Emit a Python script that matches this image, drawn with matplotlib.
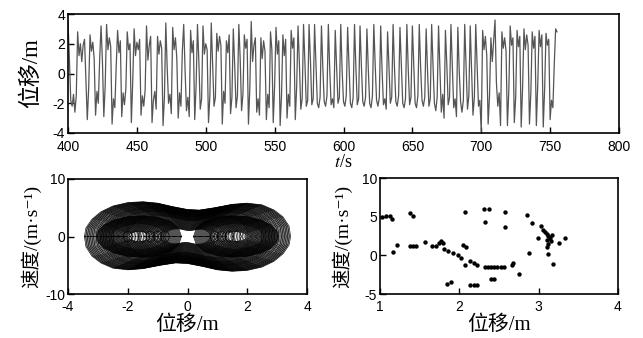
import numpy as np
import matplotlib
matplotlib.use("Agg")
from matplotlib import pyplot as plt

plt.rcParams['font.family'] = ['Liberation Serif', 'Noto Sans CJK SC', 'DejaVu Serif']
plt.rcParams['axes.unicode_minus'] = False
plt.rcParams['mathtext.fontset'] = 'stix'

# --- top panel: displacement, one value per second from t=400 s ---
t_start = 400
t_step = 1.0
disp = [
    3.5, 1.0, -1.8, -2.2, -1.4, -2.6, -1.5, 2.8, 1.2, 2.0,
    0.8, 1.9, 2.3, -0.5, -3.1, -1.0, 2.6, 1.5, 2.1, 1.0,
    -2.8, -1.2, -2.0, 1.0, 3.2, 0.8, -2.9, -0.8, 3.3, 1.6,
    2.4, 1.8, -3.4, -1.7, -2.3, 0.5, 2.9, 1.4, 2.2, -2.9,
    -1.3, -2.1, -1.0, 2.8, 1.6, 2.0, -3.3, -0.5, 3.0, 1.2,
    2.1, 1.6, 2.3, -2.8, -1.5, -2.2, -1.1, 3.2, 0.9, 1.9,
    2.5, -3.3, -1.8, -1.2, -2.4, 2.5, 1.3, 2.2, 1.7, -3.5,
    -1.6, 3.4, 0.4, -2.0, -1.4, -2.7, 3.1, 1.6, 2.4, 1.0,
    -3.0, -1.3, -2.2, 1.5, 3.3, 0.2, -2.5, -1.6, -2.9, 2.9,
    1.4, 2.2, -3.1, -0.8, 3.3, 0.8, -2.4, -1.7, 3.2, 1.3,
    2.0, 1.6, -3.3, -1.5, 3.4, 0.5, -2.2, -1.6, 2.7, 1.5,
    2.5, 1.9, -3.4, -1.2, -2.0, 2.2, 1.4, 2.6, -2.7, -1.6,
    3.0, 0.6, -2.3, -1.5, 3.3, 1.0, -2.5, -1.4, 2.6, 1.7,
    2.3, -3.4, -1.0, 3.5, 0.8, 1.9, 2.4, -2.6, -1.7, -2.8,
    2.4, 1.0, 2.2, 1.5, -3.1, -1.4, -2.3, 2.8, 1.6, -3.3,
    -0.8, 3.1, 1.3, 2.2, -3.5, -1.5, 2.6, 1.2, 2.3, -3.0,
    -1.4, -2.2, 2.9, 1.7, 2.4, -3.1, -0.9, 3.2, 0.6, -2.4,
    -1.7, 3.3, 0.7, -2.2, -1.8, 3.3, 0.9, -2.1, -1.7, 3.3,
    0.6, -2.0, -2.3, -1.6, 3.2, 0.4, -1.9, -2.2, -1.5, 3.3,
    0.3, -2.1, -1.7, -2.3, 2.9, 0.5, -2.0, -1.6, 3.3, 0.2,
    -1.9, -2.2, -1.5, 3.1, 0.6, -2.0, -2.3, -1.6, 3.3, 0.4,
    -2.1, -1.7, 3.2, 0.5, -1.9, -2.2, -1.6, 3.0, 0.3, -2.0,
    -2.3, -1.5, 3.3, 0.6, -1.8, -2.2, -1.6, 3.2, 0.2, -2.1,
    -1.7, -2.4, 2.8, 0.5, -2.0, -1.6, 3.3, 0.4, -1.9, -2.2,
    -1.5, 3.1, 0.6, -2.0, -2.3, -1.7, 3.3, 0.3, -2.1, -1.6,
    3.2, 0.5, -2.0, -2.3, -1.5, 3.3, 0.4, -1.8, -2.2, -1.6,
    3.0, 0.2, -2.2, -1.7, 3.3, 0.5, -2.0, -2.5, -1.6, 3.2,
    0.3, -2.6, -1.4, -3.0, 2.9, 0.6, -2.1, -1.6, 3.3, 0.4,
    -2.3, -1.7, -2.9, 3.1, 0.2, -1.9, -2.6, -1.8, 3.3, 0.5,
    -2.4, -1.5, 3.2, 0.3, -2.8, -1.6, 3.3, 0.6, -2.2, -1.8,
    -3.9, 2.9, 1.6, 2.5, 1.2, -3.4, -1.5, 2.4, 0.8, 2.2,
    3.6, -0.6, -2.2, -1.3, -3.5, 2.8, 1.7, 2.4, 1.5, -3.5,
    -1.2, 3.2, 1.9, 2.4, -3.3, -1.6, 2.9, 1.8, 2.5, -3.6,
    -1.0, 3.0, 1.6, 2.6, 1.9, -3.4, -1.3, 2.8, 1.7, 2.5,
    -3.5, -0.8, 2.9, 1.8, 2.6, -3.6, -1.1, 2.7, 1.9, 2.3,
    -3.1, -1.8, -2.3, 0.6, 3.0, 2.8,
]

# --- bottom left: phase portrait outlines ---
# upper half of the outer (cross-well) orbit, left to right
outer_x = [-3.45, -3.4, -3.2, -2.9, -2.5, -2.0, -1.5, -1.0, -0.5, 0.0,
           0.4, 0.9, 1.5, 2.0, 2.5, 2.9, 3.2, 3.4, 3.45]
outer_v = [0.0, 1.5, 3.0, 4.3, 5.3, 5.9, 6.05, 5.8, 5.2, 4.7,
           4.6, 5.0, 5.6, 5.8, 5.5, 4.6, 3.4, 1.8, 0.0]
cross_scales = [1.0, 0.99, 0.985, 0.975, 0.97, 0.96, 0.955, 0.945, 0.94, 0.93,
                0.925, 0.915, 0.91, 0.9, 0.89, 0.885, 0.875, 0.87, 0.86, 0.85,
                0.845, 0.835, 0.83, 0.82, 0.815, 0.805, 0.8, 0.79, 0.785,
                0.775, 0.765, 0.76, 0.75, 0.74, 0.735, 0.725, 0.72, 0.71,
                0.7, 0.69, 0.68, 0.67, 0.66, 0.65, 0.64, 0.63, 0.62, 0.61,
                0.6, 0.59, 0.58, 0.565, 0.55, 0.535, 0.52, 0.505, 0.49,
                0.475, 0.46, 0.445, 0.43, 0.415, 0.4, 0.385, 0.37, 0.355,
                0.34, 0.325, 0.31, 0.295, 0.28, 0.265, 0.25, 0.235, 0.22]
# upper half of a single-well orbit (right well), left to right
well_x = [0.2, 0.3, 0.55, 0.95, 1.45, 1.95, 2.45, 2.8, 3.0, 3.05]
well_v = [0.0, 1.5, 2.6, 3.3, 3.6, 3.5, 2.9, 2.0, 0.9, 0.0]
well_center = 1.65
well_scales = [1.0, 0.98, 0.96, 0.94, 0.92, 0.9, 0.88, 0.86, 0.84, 0.82,
               0.8, 0.78, 0.76, 0.74, 0.72, 0.7, 0.68, 0.66, 0.64, 0.62,
               0.6, 0.57, 0.54, 0.51, 0.48, 0.45, 0.42, 0.39, 0.36, 0.33,
               0.3, 0.27, 0.24]
# small loops strung along v = 0
small_x = [-0.15, -0.1, 0.0, 0.1, 0.15, 0.1, 0.0, -0.1, -0.15]
small_v = [0.0, 0.7, 1.0, 0.7, 0.0, -0.7, -1.0, -0.7, 0.0]
small_centers = [-2.0, -1.75, -1.5, -1.25, -1.0, -0.75, 0.9, 1.15, 1.4, 1.65]

# --- bottom right: Poincare section points ---
pc_x = [1.02, 1.07, 1.12, 1.15, 1.38, 1.42, 1.16, 1.21, 1.38, 1.42, 1.46,
        1.57, 1.65, 1.70, 1.74, 1.77, 1.80, 1.81, 1.86, 1.92, 1.98, 2.02,
        2.07, 2.05, 2.09, 2.07, 2.14, 2.18, 2.22, 2.32, 2.36, 2.40, 2.44,
        2.31, 2.38, 2.32, 2.40, 2.44, 1.84, 1.89, 2.13, 2.18, 2.22, 2.58,
        2.58, 2.85, 2.92, 3.03, 3.05, 3.08, 3.10, 3.12, 3.14, 3.10, 3.15,
        3.12, 3.10, 3.17, 2.99, 3.25, 3.33, 3.12, 3.18, 2.88, 2.68, 2.66,
        2.75, 2.48, 2.52, 2.56]
pc_v = [5.0, 5.1, 5.05, 4.7, 5.5, 5.1, 0.47, 1.4, 1.25, 1.25, 1.25,
        1.76, 1.2, 1.25, 1.65, 1.85, 1.6, 0.77, 0.6, 0.34, 0.04, -0.4,
        -1.25, 1.37, 1.07, 5.6, -0.75, -1.0, -1.2, -1.47, -1.47, -1.47, -1.47,
        5.95, 5.95, 4.35, -3.07, -3.1, -3.7, -3.5, -3.9, -3.8, -3.8, 5.64,
        3.6, 5.2, 4.2, 3.8, 3.3, 3.0, 2.7, 2.5, 2.2, 2.0, 1.8,
        1.5, 1.1, 2.6, 2.3, 1.63, 2.2, 0.17, -1.1, 0.26, -1.03, -1.2,
        -2.4, -1.5, -1.5, -1.45]

W, H = 643, 338
fig = plt.figure(figsize=(W / 100, H / 100), dpi=100)
ax1 = fig.add_axes([68 / W, 1 - 133 / H, (619 - 68) / W, (133 - 14) / H])
ax2 = fig.add_axes([68 / W, 1 - 294 / H, (307 - 68) / W, (294 - 179) / H])
ax3 = fig.add_axes([380 / W, 1 - 294 / H, (618 - 380) / W, (294 - 178) / H])

t = t_start + t_step * np.arange(len(disp))
ax1.plot(t, disp, color='#555555', lw=0.9)
ax1.set_xlim(400, 800)
ax1.set_ylim(-4, 4)
ax1.set_xticks(range(400, 801, 50))
ax1.set_yticks([-4, -2, 0, 2, 4])
ax1.set_xlabel('$t$/s', fontsize=13, labelpad=0)
ax1.set_ylabel('位移/m', fontsize=16.5, labelpad=8)

# phase portrait
ox = np.array(outer_x)
ov = np.array(outer_v)
loop_x = np.concatenate([ox, -ox[1:]])
loop_v = np.concatenate([ov, -ov[1:]])
for s in cross_scales:
    ax2.plot(loop_x * s, loop_v * s, color='k', lw=0.45)
wx = np.array(well_x) - well_center
wv = np.array(well_v)
wloop_x = np.concatenate([wx, wx[::-1][1:]])
wloop_v = np.concatenate([wv, -wv[::-1][1:]])
for s in well_scales:
    ax2.plot(well_center + wloop_x * s, wloop_v * s, color='k', lw=0.45)
    ax2.plot(-well_center - wloop_x * s, -wloop_v * s, color='k', lw=0.45)
for c in small_centers:
    ax2.plot(c + np.array(small_x), small_v, color='k', lw=0.45)
ax2.set_xlim(-4, 4)
ax2.set_ylim(-10, 10)
ax2.set_xticks([-4, -2, 0, 2, 4])
ax2.set_yticks([-10, 0, 10])
ax2.set_xlabel('位移/m', fontsize=15, labelpad=1)
ax2.set_ylabel('速度/(m·s⁻¹)', fontsize=14, labelpad=3)

ax3.scatter(pc_x, pc_v, s=10, color='k', linewidths=0)
ax3.set_xlim(1, 4)
ax3.set_ylim(-5, 10)
ax3.set_xticks([1, 2, 3, 4])
ax3.set_yticks([-5, 0, 5, 10])
ax3.set_xlabel('位移/m', fontsize=15, labelpad=1)
ax3.set_ylabel('速度/(m·s⁻¹)', fontsize=14, labelpad=7)

for ax in (ax1, ax2, ax3):
    for sp in ax.spines.values():
        sp.set_linewidth(1.2)
    ax.tick_params(direction='in', length=4, width=1, labelsize=10)
    ax.tick_params(axis='x', pad=4)
    ax.tick_params(axis='y', pad=2)
    for lab in ax.get_xticklabels() + ax.get_yticklabels():
        lab.set_fontfamily('Liberation Sans')
ax1.tick_params(axis='x', pad=5)

fig.savefig('out.png', dpi=100)
